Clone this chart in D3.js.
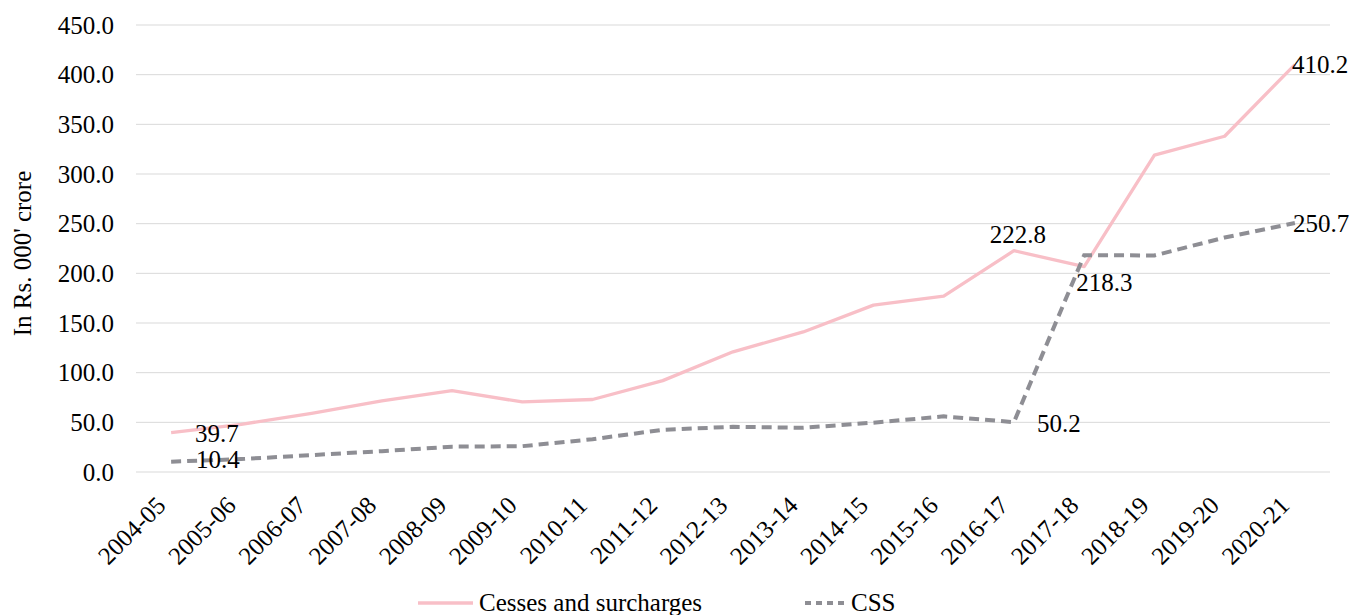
<!DOCTYPE html>
<html>
<head>
<meta charset="utf-8">
<script src="https://cdn.jsdelivr.net/npm/d3@7"></script>
<style>
  html, body { margin: 0; padding: 0; background: #fff; }
  svg text { font-family: "Liberation Serif", "DejaVu Serif", serif; fill: #000; font-size: 25px; }
</style>
</head>
<body>
<svg id="chart" width="1350" height="615"></svg>
<script>
const years = ["2004-05","2005-06","2006-07","2007-08","2008-09","2009-10","2010-11","2011-12",
  "2012-13","2013-14","2014-15","2015-16","2016-17","2017-18","2018-19","2019-20","2020-21"];
const cesses = [39.7, 48, 59, 71.5, 82, 70.5, 73, 92, 121, 141, 168, 177, 222.8, 206.7, 319, 338, 410.2];
const css = [10.4, 13, 17, 21, 25.5, 26, 33, 42.5, 45.5, 44.5, 49.7, 56, 50.2, 218.3, 218, 236, 250.7];
const yTicks = [0, 50, 100, 150, 200, 250, 300, 350, 400, 450];

// labelled points: series, index, offset of the text baseline from the point
const labels = [
  { s: "cesses", i: 0, dx: 24, dy: 9.5, anchor: "start" },
  { s: "css", i: 0, dx: 25, dy: 6.5, anchor: "start" },
  { s: "cesses", i: 12, dx: 4, dy: -7.5, anchor: "middle" },
  { s: "css", i: 12, dx: 23, dy: 9.5, anchor: "start" },
  { s: "css", i: 13, dx: -8, dy: 35.5, anchor: "start" },
  { s: "css", i: 16, dx: -2, dy: 8.7, anchor: "start" },
  { s: "cesses", i: 16, dx: -3, dy: 8.7, anchor: "start" }
];

const svg = d3.select("#chart");
const margin = { left: 136, right: 20, top: 25, bottom: 143 };
const W = 1350, H = 615;
const pink = "#f8bfc7", grey = "#8e8e94";

const x = d3.scaleBand().domain(years).range([margin.left, W - margin.right]);
const y = d3.scaleLinear().domain([0, 450]).range([H - margin.bottom, margin.top]);
const cx = d => x(d) + x.bandwidth() / 2;

// gridlines
svg.append("g")
  .selectAll("line")
  .data(yTicks)
  .join("line")
  .attr("x1", margin.left).attr("x2", W - margin.right)
  .attr("y1", d => y(d)).attr("y2", d => y(d))
  .attr("stroke", "#d9d9d9").attr("stroke-width", 1);

// y axis labels
const yAxis = svg.append("g")
  .attr("transform", `translate(${margin.left},0)`)
  .call(d3.axisLeft(y).tickValues(yTicks).tickFormat(d3.format(".1f")).tickSize(0).tickPadding(22));
yAxis.select(".domain").remove();
yAxis.attr("font-family", null).attr("font-size", null);
yAxis.selectAll("text").attr("fill", "#000");

// x axis labels, rotated
const xAxis = svg.append("g")
  .attr("transform", `translate(0,${y(0)})`)
  .call(d3.axisBottom(x).tickSize(0).tickPadding(0));
xAxis.select(".domain").remove();
xAxis.attr("font-family", null).attr("font-size", null);
xAxis.selectAll("text")
  .attr("fill", "#000")
  .attr("text-anchor", "end")
  .attr("y", 0)
  .attr("dy", 0)
  .attr("transform", "translate(-4,35) rotate(-45)");

// y axis title
svg.append("text")
  .attr("transform", `translate(31,${(y(0) + y(450)) / 2 + 5}) rotate(-90)`)
  .attr("text-anchor", "middle")
  .text("In Rs. 000' crore");

const line = d3.line().x((d, i) => cx(years[i])).y(d => y(d));

svg.append("path")
  .datum(cesses)
  .attr("d", line)
  .attr("fill", "none")
  .attr("stroke", pink)
  .attr("stroke-width", 3.3)
  .attr("stroke-linejoin", "round");

svg.append("path")
  .datum(css)
  .attr("d", line)
  .attr("fill", "none")
  .attr("stroke", grey)
  .attr("stroke-width", 4)
  .attr("stroke-dasharray", "10,6");

// data labels
const seriesMap = { cesses, css };
svg.append("g")
  .selectAll("text")
  .data(labels)
  .join("text")
  .attr("x", d => cx(years[d.i]) + d.dx)
  .attr("y", d => y(seriesMap[d.s][d.i]) + d.dy)
  .attr("text-anchor", d => d.anchor)
  .text(d => d3.format(".1f")(seriesMap[d.s][d.i]));

// legend
const legend = svg.append("g").attr("transform", "translate(0,603)");
legend.append("line")
  .attr("x1", 418).attr("x2", 473).attr("y1", 0).attr("y2", 0)
  .attr("stroke", pink).attr("stroke-width", 3.3);
legend.append("text")
  .attr("x", 479).attr("y", 8)
  .text("Cesses and surcharges");
legend.append("line")
  .attr("x1", 805).attr("x2", 848).attr("y1", 0).attr("y2", 0)
  .attr("stroke", grey).attr("stroke-width", 4).attr("stroke-dasharray", "6,5");
legend.append("text")
  .attr("x", 851).attr("y", 8)
  .text("CSS");
</script>
</body>
</html>
